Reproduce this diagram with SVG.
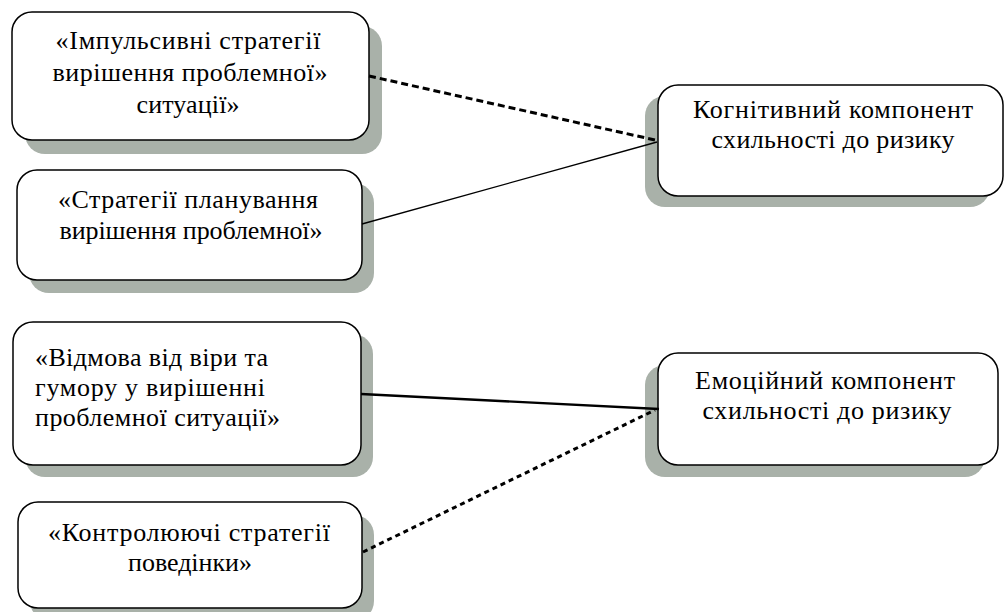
<svg xmlns="http://www.w3.org/2000/svg" width="1005" height="612" viewBox="0 0 1005 612">
<style>
.box{fill:#fff;stroke:#000;stroke-width:1.5}
.sh{fill:#a9b1a9}
text{font-family:'Liberation Serif','DejaVu Serif','Times New Roman',serif;font-size:26px;fill:#000}
.m{text-anchor:middle}
.solid{stroke:#000;fill:none}
.dash{stroke:#000;fill:none;stroke-width:3}
</style>
<rect width="1005" height="612" fill="#fff"/>
<g id="n1">
<rect class="sh" x="25" y="26" width="357" height="128" rx="20"/>
<rect class="box" x="12" y="12" width="357" height="128" rx="20"/>
<text class="m" x="188" y="49" textLength="265" lengthAdjust="spacing">«Імпульсивні стратегії</text>
<text class="m" x="190" y="81" textLength="275" lengthAdjust="spacing">вирішення проблемної»</text>
<text class="m" x="188" y="113" textLength="103" lengthAdjust="spacing">ситуації»</text>
</g>
<g id="n2">
<rect class="sh" x="29" y="183" width="345" height="110" rx="20"/>
<rect class="box" x="17" y="170" width="345" height="110" rx="20"/>
<text class="m" x="188" y="208" textLength="260" lengthAdjust="spacing">«Стратегії планування</text>
<text class="m" x="191" y="239" textLength="263" lengthAdjust="spacing">вирішення проблемної»</text>
</g>
<g id="n3">
<rect class="sh" x="25" y="334" width="348" height="143" rx="20"/>
<rect class="box" x="13" y="322" width="348" height="143" rx="20"/>
<text x="35" y="366" textLength="233" lengthAdjust="spacing">«Відмова від віри та</text>
<text x="35" y="396" textLength="230" lengthAdjust="spacing">гумору у вирішенні</text>
<text x="35" y="426" textLength="245" lengthAdjust="spacing">проблемної ситуації»</text>
</g>
<g id="n4">
<rect class="sh" x="30" y="515" width="344" height="106" rx="20"/>
<rect class="box" x="18" y="502" width="344" height="106" rx="20"/>
<text class="m" x="189" y="541" textLength="282" lengthAdjust="spacing">«Контролюючі стратегії</text>
<text class="m" x="190" y="571" textLength="124" lengthAdjust="spacing">поведінки»</text>
</g>
<g id="r1">
<rect class="sh" x="645" y="96" width="345" height="111" rx="20"/>
<rect class="box" x="658" y="85" width="345" height="111" rx="20"/>
<text class="m" x="833" y="118" textLength="280" lengthAdjust="spacing">Когнітивний компонент</text>
<text class="m" x="833" y="148" textLength="243" lengthAdjust="spacing">схильності до ризику</text>
</g>
<g id="r2">
<rect class="sh" x="645" y="365" width="340" height="112" rx="20"/>
<rect class="box" x="658" y="353" width="340" height="112" rx="20"/>
<text class="m" x="825" y="389" textLength="260" lengthAdjust="spacing">Емоційний компонент</text>
<text class="m" x="827" y="419" textLength="249" lengthAdjust="spacing">схильності до ризику</text>
</g>
<g id="connectors">
<line class="dash" x1="369" y1="76" x2="655" y2="140" stroke-dasharray="7,4"/>
<line class="solid" x1="362" y1="224" x2="657" y2="142" stroke-width="1.3"/>
<line class="solid" x1="361" y1="394" x2="659" y2="409" stroke-width="2.3"/>
<line class="dash" x1="363" y1="552" x2="655" y2="410" stroke-dasharray="5,4"/>
</g>
</svg>
